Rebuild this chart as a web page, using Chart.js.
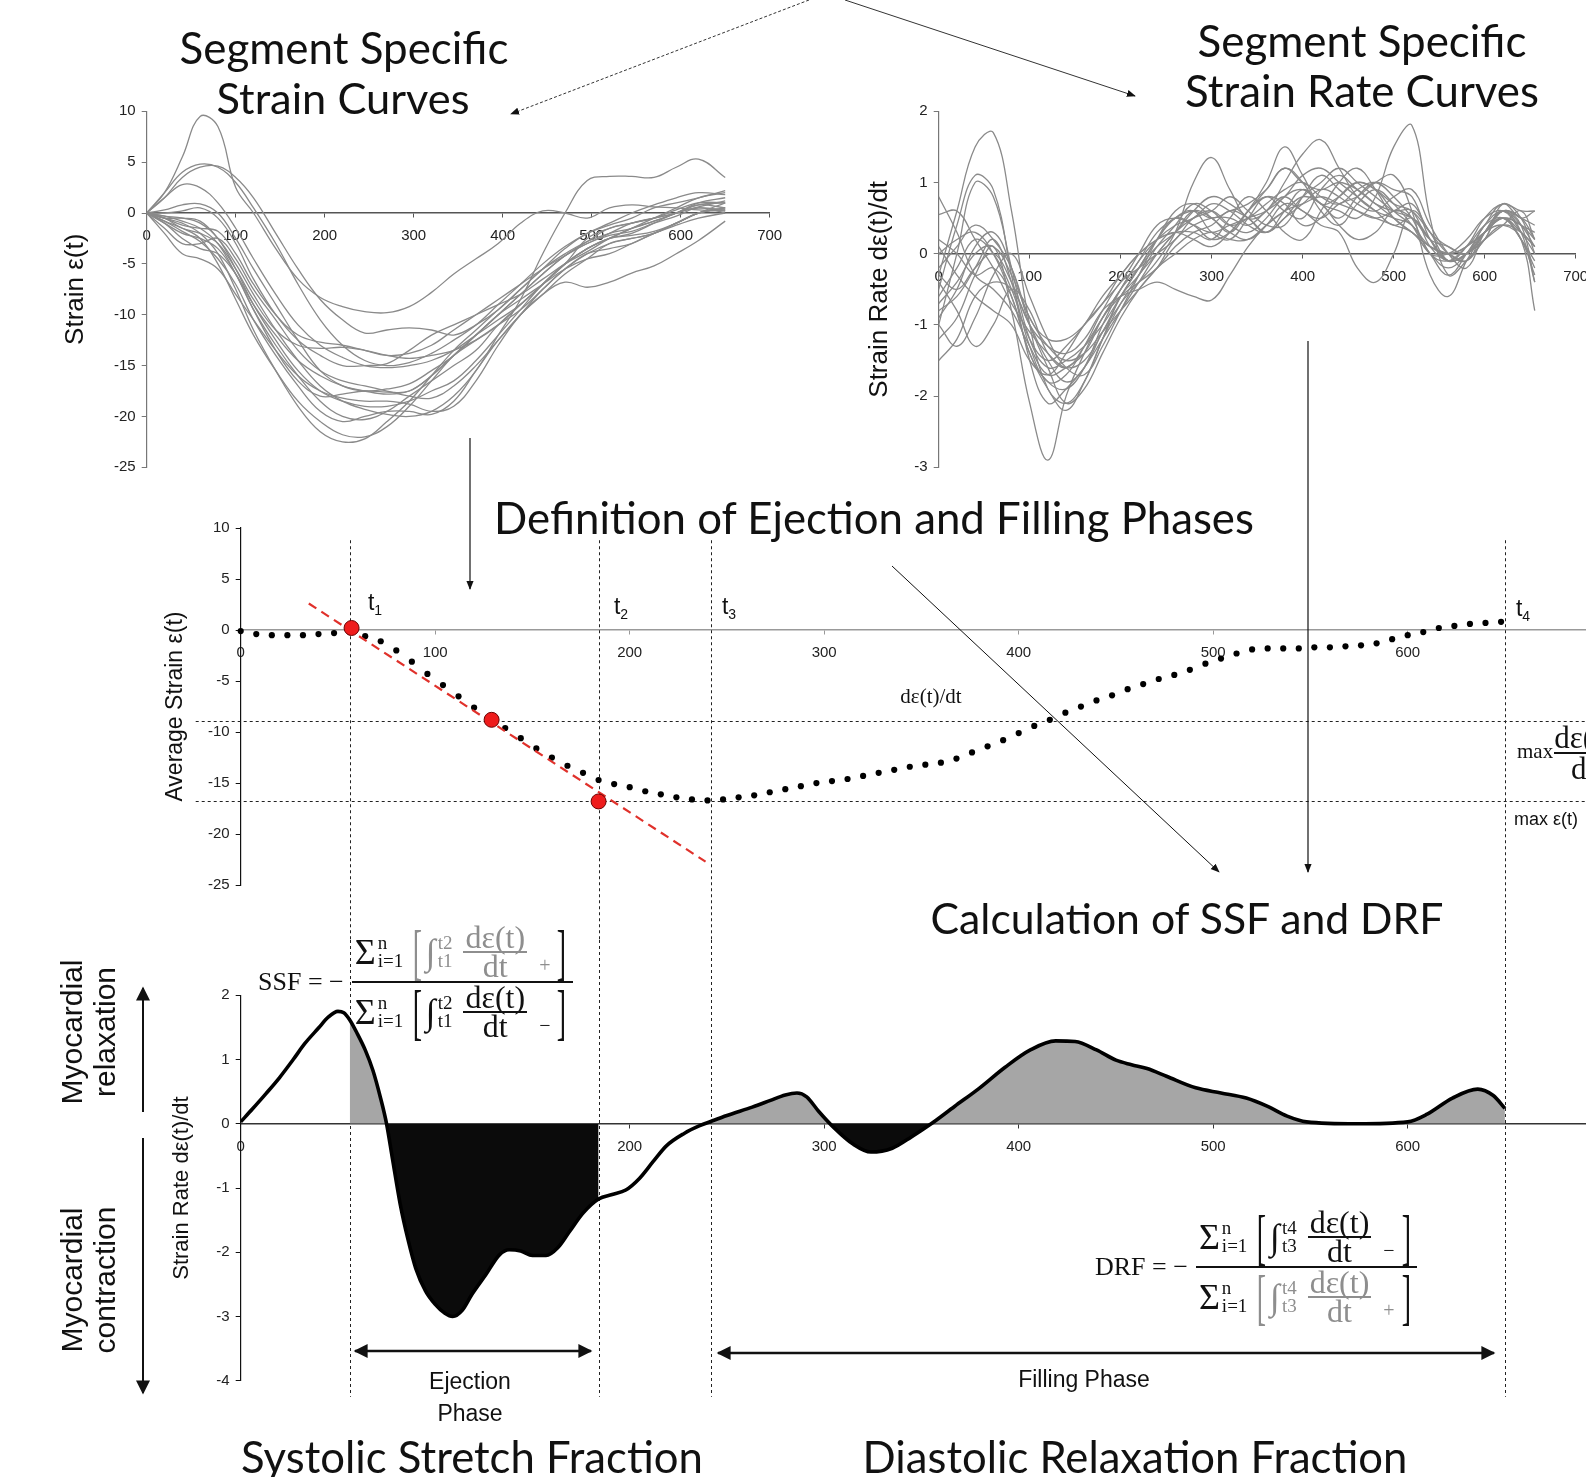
<!DOCTYPE html>
<html lang="en">
<head>
<meta charset="UTF-8">
<title>Systolic Stretch Fraction / Diastolic Relaxation Fraction</title>
<script src="https://cdn.jsdelivr.net/npm/chart.js"></script>
<style>
    html, body { margin: 0; padding: 0; background: #fff; overflow: hidden; }
    #page { position: relative; width: 1586px; height: 1477px; overflow: hidden; background: #fff; }
    #page canvas { position: absolute; }
    #arrows { position: absolute; left: 0; top: 0; z-index: 3; }
    .lbl { position: absolute; transform: translate(-50%, -50%); white-space: nowrap; z-index: 4;
           font-family: 'Liberation Sans', Arial, sans-serif; color: #111; line-height: 1; }
    .big { font-family: Lato, 'Open Sans', sans-serif; color: #111; }
    .tl { font-size: 23px; }
    .tl sub { font-size: 14px; vertical-align: -5px; }
    .serif { font-family: 'Liberation Serif', 'DejaVu Serif', serif; }
    .rot { text-align: center; font-size: 30px; line-height: 33px; transform: translate(-50%, -50%) rotate(-90deg); }

    .eq { position: absolute; transform: translateY(-50%); display: flex; align-items: center; z-index: 4;
          font-family: 'Liberation Serif', 'DejaVu Serif', serif; font-size: 26px; color: #111; }
    .eq .lhs { margin-right: 8px; white-space: nowrap; }
    .fr { display: flex; flex-direction: column; }
    .fr .nu { border-bottom: 2px solid #111; }
    .term { display: flex; align-items: center; height: 58px; padding: 0 3px; }
    .sig { font-size: 36px; }
    .lim { display: flex; flex-direction: column; font-size: 19px; line-height: 18px; margin: 0 6px 0 2px; }
    .br { font-size: 62px; line-height: 1; transform: scaleX(0.45); margin: 0 -2px; }
    .inner { display: flex; align-items: center; }
    .int { font-size: 36px; }
    .ifr { display: flex; flex-direction: column; align-items: center; font-size: 32px; line-height: 27px; margin-left: 5px; }
    .ifr .a { border-bottom: 2px solid currentColor; padding: 0 2px; }
    .sgn { font-size: 20px; align-self: flex-end; margin: 0 3px 3px 12px; }
    .gray { color: #8e8e8e; }
</style>
</head>
<body>
<div id="page">
    <canvas id="strainChart"></canvas>
    <canvas id="rateChart"></canvas>
    <canvas id="avgChart"></canvas>
    <canvas id="meanRateChart"></canvas>
    <svg id="arrows" width="1586" height="1477" viewBox="0 0 1586 1477">
        <defs>
            <marker id="ah" viewBox="0 0 10 10" refX="9" refY="5" markerWidth="9" markerHeight="9" markerUnits="userSpaceOnUse" orient="auto">
                <path d="M0,1 L10,5 L0,9 z" fill="#111"/>
            </marker>
            <marker id="ahBig" viewBox="0 0 10 10" refX="9" refY="5" markerWidth="16" markerHeight="14" markerUnits="userSpaceOnUse" orient="auto-start-reverse">
                <path d="M0,0 L10,5 L0,10 z" fill="#111"/>
            </marker>
        </defs>
        <line x1="809" y1="0" x2="511" y2="114" stroke="#333" stroke-width="1" stroke-dasharray="3,2" marker-end="url(#ah)"/>
        <line x1="845" y1="0" x2="1135" y2="96" stroke="#333" stroke-width="1" marker-end="url(#ah)"/>
        <line x1="470" y1="438" x2="470" y2="589" stroke="#111" stroke-width="1.2" marker-end="url(#ah)"/>
        <line x1="1308" y1="341" x2="1308" y2="872" stroke="#111" stroke-width="1.2" marker-end="url(#ah)"/>
        <line x1="892" y1="566" x2="1219" y2="872" stroke="#111" stroke-width="1" marker-end="url(#ah)"/>
        <line x1="355" y1="1351" x2="591" y2="1351" stroke="#111" stroke-width="2.5" marker-start="url(#ahBig)" marker-end="url(#ahBig)"/>
        <line x1="718" y1="1353" x2="1494" y2="1353" stroke="#111" stroke-width="2.5" marker-start="url(#ahBig)" marker-end="url(#ahBig)"/>
        <line x1="143" y1="1112" x2="143" y2="988" stroke="#111" stroke-width="2" marker-end="url(#ahBig)"/>
        <line x1="143" y1="1138" x2="143" y2="1393" stroke="#111" stroke-width="2" marker-end="url(#ahBig)"/>
    </svg>
</div>

<script>
    // ---------- segment strain curves (ms, %) ----------
    const strainTimes = [0, 20, 40, 60, 80, 100, 120, 145, 170, 195, 220, 245, 270, 295, 320, 345, 370, 395, 420, 445, 470, 495, 520, 545, 570, 595, 620, 650];
    const strainCurves = [
        [0, 2.0, 5.5, 9.5, 8.5, 2.5, 0.0, -3.5, -6.5, -8.3, -9.2, -9.7, -9.8, -9.2, -7.8, -6.0, -4.5, -3.0, -1.0, 0.2, 0.0, -0.5, 0.5, 0.8, 0.6, 0.5, 0.3, 0.2],
        [0, 2.0, 4.0, 4.8, 4.5, 3.0, 0.5, -3.0, -7.0, -10.5, -13.0, -14.5, -15.0, -14.7, -13.8, -12.5, -11.0, -9.0, -7.0, -5.0, -3.3, -2.0, -1.0, 0.0, 0.8, 1.5, 2.0, 1.8],
        [0, 1.5, 3.5, 4.5, 4.6, 3.5, 1.5, -2.0, -5.5, -8.5, -10.5, -11.8, -11.5, -11.3, -11.5, -12.0, -11.0, -9.5, -7.5, -5.5, -3.5, -2.0, -1.2, -0.5, 0.5, 1.0, 1.5, 2.2],
        [0, 1.5, 2.8, 2.5, 1.0, -1.5, -4.5, -8.0, -11.0, -13.0, -14.2, -15.0, -15.2, -15.0, -14.5, -13.5, -12.0, -10.5, -9.0, -7.0, -5.0, -2.5, -1.5, -1.0, -0.5, 0.3, 1.0, 1.0],
        [0, 0.3, 0.8, 0.9, 0.0, -2.5, -5.5, -9.0, -12.5, -15.5, -17.0, -17.5, -17.3, -16.8, -15.5, -14.0, -12.0, -10.0, -8.0, -6.0, -4.2, -2.8, -1.5, -1.0, -0.5, 0.0, 0.6, 1.2],
        [0, -0.5, -0.5, -0.8, -2.5, -5.0, -8.0, -11.5, -14.5, -17.0, -18.5, -19.3, -19.8, -20.0, -19.5, -18.0, -15.5, -12.0, -8.5, -4.0, 0.0, 3.2, 3.6, 3.6, 3.5, 4.5, 5.3, 3.5],
        [0, -0.3, -0.8, -1.5, -3.0, -6.0, -9.5, -13.0, -16.0, -18.5, -20.0, -20.3, -19.5, -18.0, -16.5, -15.0, -13.5, -11.0, -9.0, -7.0, -5.0, -3.5, -2.5, -2.0, -1.0, 0.0, 0.5, 0.3],
        [0, -0.5, -1.0, -2.0, -4.0, -7.5, -11.5, -15.5, -19.0, -21.5, -22.5, -22.2, -20.5, -18.5, -16.0, -13.5, -11.5, -9.5, -7.5, -5.5, -4.0, -2.8, -2.0, -1.5, -0.8, 0.0, 0.8, 1.0],
        [0, -0.8, -1.5, -2.5, -5.0, -8.5, -12.0, -15.5, -18.5, -20.5, -21.8, -22.0, -21.0, -19.0, -16.5, -14.0, -12.0, -10.0, -8.0, -6.0, -4.2, -3.0, -2.2, -1.8, -1.0, -0.3, 0.5, 0.0],
        [0, -2.0, -4.0, -4.5, -5.5, -8.0, -10.5, -13.5, -16.0, -17.5, -18.2, -18.5, -18.5, -18.8, -19.5, -19.0, -16.5, -13.0, -10.0, -8.0, -6.8, -7.3, -6.8, -5.9, -5.2, -4.0, -2.7, -0.8],
        [0, -1.0, -2.5, -3.5, -4.0, -6.0, -9.0, -12.0, -14.5, -16.0, -17.0, -17.5, -17.8, -17.5, -16.0, -14.0, -12.5, -11.0, -9.5, -7.5, -5.5, -4.0, -3.0, -2.5, -2.0, -1.0, 0.0, 0.5],
        [0, -0.5, -1.5, -2.0, -3.0, -5.5, -8.5, -11.5, -13.0, -13.3, -13.2, -13.5, -14.0, -14.3, -14.0, -13.5, -12.5, -11.0, -9.0, -7.0, -5.0, -3.5, -2.5, -2.2, -1.8, -1.0, 0.0, 0.5],
        [0, -1.5, -3.0, -3.0, -2.5, -4.5, -7.5, -10.5, -13.5, -15.5, -16.5, -17.0, -17.5, -18.0, -18.2, -17.0, -15.0, -12.5, -10.0, -7.5, -5.5, -4.0, -3.5, -3.0, -2.0, -1.2, -0.5, 0.0],
        [0, -0.3, -0.5, -1.0, -2.5, -5.5, -9.0, -12.5, -15.5, -17.5, -18.5, -19.0, -19.0, -18.5, -17.5, -16.5, -14.5, -12.0, -9.5, -7.0, -5.0, -3.5, -2.5, -1.5, -0.5, 0.5, 1.5, 2.0],
        [0, -1.0, -2.0, -2.5, -3.5, -6.0, -9.5, -13.5, -16.5, -18.0, -17.8, -17.5, -17.6, -17.5, -16.0, -14.0, -12.0, -10.0, -8.5, -7.0, -5.5, -4.5, -4.0, -3.0, -2.0, -1.0, 0.0, 0.3],
        [0, -0.5, -1.2, -1.5, -1.8, -4.0, -7.0, -10.0, -12.0, -12.7, -13.0, -13.5, -14.0, -13.8, -13.0, -11.5, -10.0, -8.5, -7.0, -5.5, -4.2, -3.0, -2.0, -1.0, -0.5, 0.0, 0.8, 0.5],
        [0, 0.0, 0.2, 0.5, -0.5, -3.0, -6.5, -10.0, -12.5, -14.0, -15.0, -15.0, -14.8, -13.5, -12.0, -11.0, -10.0, -9.0, -8.0, -6.5, -5.0, -3.8, -2.5, -1.5, -0.8, 0.0, 1.0, 1.5],
        [0, -0.8, -1.8, -2.8, -4.5, -7.0, -10.5, -14.0, -17.0, -19.5, -20.5, -20.0, -19.5, -19.5, -19.8, -18.5, -15.5, -12.5, -10.0, -8.0, -6.0, -4.5, -3.0, -2.5, -2.0, -1.0, 0.0, 1.0]
    ];

    // ---------- segment strain rate curves (ms, 1/s) ----------
    const rateTimes = [0, 20, 40, 60, 80, 100, 120, 140, 160, 180, 200, 220, 240, 260, 280, 300, 320, 340, 360, 380, 400, 420, 440, 460, 480, 500, 520, 540, 560, 580, 600, 620, 640, 655];
    const rateCurves = [
        [-0.3, 0.6, 1.5, 1.7, 0.6, -1.0, -1.9, -2.1, -1.8, -1.2, -0.6, -0.3, 0.1, 0.4, 0.7, 0.6, 0.4, 0.5, 0.7, 0.9, 1.0, 0.8, 0.7, 0.9, 1.0, 0.8, 0.5, 0.0, -0.1, 0.1, 0.3, 0.5, 0.2, -0.2],
        [-0.5, 0.4, 1.1, 0.9, -0.3, -1.5, -2.1, -1.9, -1.6, -1.2, -0.8, -0.4, 0.0, 0.3, 0.6, 0.5, 0.3, 0.6, 0.9, 1.2, 1.0, 0.6, 0.4, 0.7, 0.9, 0.7, 0.4, 0.0, 0.0, 0.2, 0.5, 0.6, 0.3, 0.0],
        [-1.0, 0.0, 1.0, 0.8, -0.2, -1.2, -1.6, -1.5, -1.3, -1.0, -0.6, -0.2, 0.2, 0.5, 0.6, 0.3, 0.2, 0.5, 0.8, 0.6, 0.5, 0.9, 1.1, 0.9, 0.7, 0.6, 0.6, 0.1, -0.1, 0.0, 0.4, 0.6, 0.4, 0.1],
        [0.8, 0.3, -0.3, -0.5, -0.8, -1.3, -1.7, -1.6, -1.4, -0.9, -0.5, -0.1, 0.2, 0.4, 0.5, 0.7, 0.6, 0.4, 0.3, 0.5, 0.8, 1.0, 1.2, 1.0, 0.8, 0.6, 0.5, 0.2, -0.1, 0.0, 0.2, 0.7, 0.5, 0.6],
        [0.55, 0.6, 0.2, -0.2, -0.7, -1.1, -1.4, -1.6, -1.5, -1.1, -0.6, -0.2, 0.2, 0.5, 0.4, 0.2, 0.3, 0.6, 0.8, 0.7, 0.4, 0.5, 0.8, 1.0, 0.9, 0.7, 0.6, 0.3, 0.0, -0.1, 0.3, 0.5, 0.2, -0.3],
        [-1.5, -1.2, -0.6, -0.4, -0.5, -1.0, -1.5, -1.8, -1.6, -1.1, -0.7, -0.4, -0.1, 0.3, 1.0, 1.35, 0.9, 0.5, 0.6, 1.0, 1.4, 1.6, 1.2, 0.8, 0.6, 0.5, 0.4, 0.0, -0.3, 0.0, 0.4, 0.7, 0.5, 0.0],
        [-0.8, -0.6, -0.2, 0.2, -0.4, -1.3, -1.8, -1.7, -1.3, -0.8, -0.4, -0.2, 0.0, 0.2, 0.5, 0.6, 0.4, 0.3, 0.5, 0.8, 0.9, 0.7, 0.6, 0.5, 0.8, 1.5, 1.8, 0.5, -0.3, -0.1, 0.2, 0.6, 0.4, -0.4],
        [-1.2, -0.9, -0.3, 0.1, -0.8, -2.1, -2.9, -2.0, -1.4, -0.9, -0.6, -0.4, -0.2, 0.1, 0.3, 0.4, 0.6, 0.5, 0.3, 0.5, 0.7, 0.9, 0.8, 0.6, 0.5, 0.6, 0.7, 0.3, 0.1, 0.0, 0.3, 0.5, 0.3, 0.1],
        [-0.3, -0.5, -0.2, 0.0, -0.4, -1.0, -1.3, -1.4, -1.2, -0.8, -0.6, -0.5, -0.4, -0.5, -0.6, -0.65, -0.3, 0.1, 0.4, 0.6, 0.7, 0.8, 0.7, 0.6, 0.5, 0.4, 0.3, 0.0, -0.2, 0.0, 0.3, 0.4, 0.2, -0.8],
        [0.0, 0.2, 0.3, 0.0, -0.6, -1.4, -1.9, -2.2, -1.8, -1.2, -0.7, -0.3, 0.0, 0.3, 0.5, 0.6, 0.8, 0.6, 0.4, 0.4, 0.8, 1.1, 0.9, 0.7, 0.6, 0.8, 0.9, 0.4, 0.0, -0.2, 0.3, 0.6, 0.5, 0.2],
        [-0.6, -0.2, 0.2, 0.0, -0.5, -1.2, -1.5, -1.3, -1.0, -0.6, -0.3, 0.0, 0.2, 0.3, 0.3, 0.2, 0.5, 0.8, 0.6, 0.3, 0.2, 0.6, 1.0, 1.2, 0.9, 0.5, 0.3, 0.1, 0.0, 0.1, 0.4, 0.5, 0.2, -0.1],
        [-1.0, -1.3, -0.9, -0.3, 0.0, -0.6, -1.2, -1.6, -1.7, -1.3, -0.8, -0.3, 0.2, 0.6, 0.7, 0.5, 0.3, 0.2, 0.4, 0.7, 0.6, 0.4, 0.3, -0.2, -0.4, 0.0, 0.6, 0.3, -0.1, 0.0, 0.2, 0.4, 0.6, 0.2],
        [0.2, 0.0, -0.3, -0.2, -0.6, -1.4, -1.8, -1.9, -1.6, -1.0, -0.5, -0.1, 0.3, 0.5, 0.6, 0.5, 0.6, 0.7, 0.9, 1.2, 1.0, 0.9, 1.0, 0.9, 0.7, 0.5, 0.3, 0.1, 0.0, -0.1, 0.2, 0.4, 0.3, 0.1],
        [-0.4, -0.8, -1.3, -1.0, -0.5, -0.8, -1.4, -1.6, -1.3, -0.9, -0.5, -0.2, 0.1, 0.3, 0.6, 0.8, 0.7, 0.5, 0.3, 0.6, 0.9, 0.7, 0.5, 0.8, 1.0, 0.9, 0.8, 0.2, -0.1, 0.1, 0.5, 0.7, 0.6, 0.6],
        [-0.9, -0.5, 0.1, 0.3, -0.2, -1.0, -1.6, -2.1, -1.9, -1.4, -0.9, -0.5, -0.2, 0.2, 0.4, 0.5, 0.5, 0.4, 0.6, 0.8, 0.6, 0.5, 0.7, 0.8, 1.0, 1.1, 0.6, -0.3, -0.6, -0.1, 0.3, 0.6, 0.3, -0.4],
        [-0.2, 0.1, 0.4, 0.2, -0.2, -0.9, -1.2, -1.2, -1.0, -0.7, -0.3, 0.0, 0.2, 0.3, 0.2, 0.1, 0.3, 0.6, 1.0, 1.5, 1.1, 0.7, 0.8, 1.0, 0.9, 0.6, 0.4, 0.1, 0.0, 0.1, 0.3, 0.5, 0.4, 0.2],
        [-0.7, -0.4, 0.0, 0.1, -0.3, -0.9, -1.3, -1.5, -1.4, -1.1, -0.8, -0.5, -0.2, 0.0, 0.2, 0.3, 0.2, 0.2, 0.4, 0.6, 0.8, 0.7, 0.4, 0.2, 0.3, 0.6, 0.5, 0.2, 0.1, 0.0, 0.3, 0.5, 0.4, 0.3],
        [0.1, -0.3, -0.6, -0.8, -1.0, -1.5, -1.7, -1.4, -1.0, -0.7, -0.4, 0.0, 0.4, 0.5, 0.4, 0.3, 0.4, 0.5, 0.6, 0.8, 1.1, 1.2, 1.0, 0.8, 0.6, 0.4, 0.5, 0.2, -0.1, 0.0, 0.3, 0.6, 0.5, 0.4]
    ];

    // ---------- average strain (dotted) ----------
    const avgTimes = [0, 8, 16, 24, 32, 40, 48, 56, 64, 72, 80, 88, 96, 104, 112, 120, 128, 136, 144, 152, 160, 168, 176, 184, 192, 200,
        208, 216, 224, 232, 240, 248, 256, 264, 272, 280, 288, 296, 304, 312, 320, 328, 336, 344, 352, 360, 368, 376, 384, 392, 400,
        408, 416, 424, 432, 440, 448, 456, 464, 472, 480, 488, 496, 504, 512, 520, 528, 536, 544, 552, 560, 568, 576, 584, 592, 600,
        608, 616, 624, 632, 640, 648];
    const avgStrain = [-0.1, -0.4, -0.5, -0.5, -0.5, -0.4, -0.3, -0.2, -0.6, -1.1, -2.0, -3.1, -4.3, -5.4, -6.5, -7.6, -8.8, -9.6, -10.6, -11.6, -12.5, -13.3, -14.0, -14.7, -15.1, -15.4,
        -15.8, -16.1, -16.4, -16.6, -16.7, -16.6, -16.4, -16.2, -15.9, -15.6, -15.3, -15.0, -14.8, -14.6, -14.3, -14.0, -13.7, -13.4, -13.2, -13.0, -12.6, -12.0, -11.4, -10.8, -10.1,
        -9.4, -8.8, -8.1, -7.5, -6.9, -6.4, -5.8, -5.3, -4.8, -4.4, -3.9, -3.3, -2.8, -2.3, -1.9, -1.8, -1.8, -1.8, -1.7, -1.7, -1.6, -1.5, -1.3, -0.9, -0.5,
        -0.2, 0.2, 0.4, 0.6, 0.7, 0.8];
    const tangentT = [35, 239];
    const tangentStrain = [2.6, -22.7];
    const markT = [57, 129, 184];
    const markStrain = [0.2, -8.8, -16.8];
    const refStrain = [-8.9, -16.8];      // max dε/dt level, max ε level
    const phaseT = [56, 184, 242, 650];   // t1, t2, t3, t4

    // ---------- mean strain rate ----------
    const meanRateT = [0, 6, 13, 20, 27, 33, 40, 45, 50, 53, 56, 60, 64, 68, 72, 75, 78, 82, 86, 90, 95, 100, 105, 109, 114, 119, 126, 133, 138, 144, 150, 157, 163, 169, 176, 184,
        191, 198, 205, 212, 219, 228, 236, 242, 250, 263, 272, 280, 286, 291, 297, 305, 315, 324, 335, 345, 355, 367, 380, 393, 406, 419, 429, 440, 450, 458, 466, 476, 491,
        504, 517, 528, 538, 548, 574, 600, 610, 623, 636, 644, 650];
    const meanRate = [0.03, 0.23, 0.47, 0.72, 1.0, 1.25, 1.49, 1.66, 1.75, 1.73, 1.62, 1.4, 1.15, 0.83, 0.39, 0.0, -0.54, -1.25, -1.8, -2.25, -2.6, -2.81, -2.95, -3.0, -2.9, -2.65, -2.35, -2.04, -1.96, -1.98, -2.05, -2.05, -1.93, -1.68, -1.39, -1.17,
        -1.1, -1.03, -0.85, -0.59, -0.34, -0.15, -0.03, 0.04, 0.13, 0.26, 0.36, 0.45, 0.48, 0.42, 0.2, -0.06, -0.32, -0.44, -0.38, -0.2, 0.0, 0.27, 0.56, 0.88, 1.15, 1.29, 1.28, 1.15, 0.99, 0.92, 0.86, 0.74, 0.56,
        0.48, 0.4, 0.27, 0.12, 0.03, 0.0, 0.03, 0.15, 0.4, 0.54, 0.44, 0.24];

    Chart.defaults.font.family = "'Liberation Sans', Arial, sans-serif";
    Chart.defaults.color = '#222';
    Chart.defaults.animation = false;
    Chart.defaults.plugins.legend.display = false;
    Chart.defaults.plugins.tooltip.enabled = false;

    const page = document.getElementById('page');

    // place a canvas so that its plot area lands on the given page rectangle
    function frame(id, box, plot, titleX, titleSize) {
        const cv = document.getElementById(id);
        cv.style.left = box.x + 'px';
        cv.style.top = box.y + 'px';
        cv.width = box.w;
        cv.height = box.h;
        cv.style.width = box.w + 'px';
        cv.style.height = box.h + 'px';
        const yW = plot.left - titleX + titleSize * 0.6;
        return {
            cv: cv,
            yW: yW,
            padding: {
                left: plot.left - yW - box.x,
                top: plot.top - box.y,
                right: box.x + box.w - plot.right,
                bottom: box.y + box.h - plot.bottom
            }
        };
    }

    function makeScales(f, yMin, yMax, yStep, yTitle, titleSize, xAxisColor, yAxisColor) {
        return {
            x: {
                type: 'linear', position: { y: 0 }, min: 0, max: 700,
                ticks: { stepSize: 100, font: { size: 15 }, padding: 10, maxRotation: 0, autoSkip: false, color: '#222' },
                grid: { drawOnChartArea: false, tickLength: 4, color: xAxisColor },
                border: { color: xAxisColor, width: 1.5 }
            },
            y: {
                min: yMin, max: yMax,
                ticks: { stepSize: yStep, font: { size: 15 }, padding: 6, color: '#222' },
                grid: { drawOnChartArea: false, tickLength: 5, color: yAxisColor },
                border: { color: yAxisColor, width: 1.2 },
                title: { display: true, text: yTitle, font: { size: titleSize }, padding: 0, color: '#111' },
                afterFit: function (s) { s.width = f.yW; }
            }
        };
    }

    function xy(ts, vs) {
        return ts.map(function (t, i) { return { x: t, y: vs[i] }; });
    }

    // ---------- chart 1: segment strain ----------
    const f1 = frame('strainChart', { x: 40, y: 95, w: 760, h: 390 }, { left: 146.7, right: 769.7, top: 111.3, bottom: 467.3 }, 76, 26);
    new Chart(f1.cv, {
        type: 'line',
        data: {
            datasets: strainCurves.map(function (c) {
                return { data: xy(strainTimes, c), borderColor: '#8a8a8a', borderWidth: 1.3, pointRadius: 0, tension: 0.4 };
            })
        },
        options: {
            responsive: false, devicePixelRatio: 1,
            layout: { padding: f1.padding, autoPadding: false },
            scales: makeScales(f1, -25, 10, 5, 'Strain ε(t)', 26, '#555', '#777')
        }
    });

    // ---------- chart 2: segment strain rate ----------
    const f2 = frame('rateChart', { x: 850, y: 95, w: 750, h: 390 }, { left: 938.7, right: 1575.7, top: 111.3, bottom: 467.3 }, 880, 26);
    new Chart(f2.cv, {
        type: 'line',
        data: {
            datasets: rateCurves.map(function (c) {
                return { data: xy(rateTimes, c), borderColor: '#8a8a8a', borderWidth: 1.3, pointRadius: 0, tension: 0.4 };
            })
        },
        options: {
            responsive: false, devicePixelRatio: 1,
            layout: { padding: f2.padding, autoPadding: false },
            scales: makeScales(f2, -3, 2, 1, 'Strain Rate dε(t)/dt', 26, '#555', '#777')
        }
    });

    // ---------- chart 3: average strain with phase guides ----------
    const guides3 = {
        id: 'guides3',
        beforeDatasetsDraw: function (chart) {
            const ctx = chart.ctx, x = chart.scales.x, y = chart.scales.y;
            ctx.save();
            ctx.strokeStyle = '#222';
            ctx.lineWidth = 1;
            ctx.setLineDash([3, 3]);
            phaseT.forEach(function (t) {
                const px = Math.round(x.getPixelForValue(t)) + 0.5;
                ctx.beginPath();
                ctx.moveTo(px, y.getPixelForValue(8.8));
                ctx.lineTo(px, chart.height);
                ctx.stroke();
            });
            refStrain.forEach(function (v) {
                const py = Math.round(y.getPixelForValue(v)) + 0.5;
                ctx.beginPath();
                ctx.moveTo(chart.chartArea.left - 45, py);
                ctx.lineTo(chart.width, py);
                ctx.stroke();
            });
            ctx.restore();
        }
    };
    const f3 = frame('avgChart', { x: 150, y: 500, w: 1480, h: 440 }, { left: 240.7, right: 1602.2, top: 528.0, bottom: 885.1 }, 176, 23);
    new Chart(f3.cv, {
        type: 'line',
        data: {
            datasets: [
                { data: xy(markT, markStrain), showLine: false, pointRadius: 7.5, pointBackgroundColor: '#ee1c1c', pointBorderColor: '#6a0000', pointBorderWidth: 1, order: 0 },
                { data: xy(tangentT, tangentStrain), borderColor: '#e0312b', borderWidth: 2.2, borderDash: [9, 6], pointRadius: 0, order: 1 },
                { data: xy(avgTimes, avgStrain), showLine: false, pointRadius: 3.1, pointBackgroundColor: '#000', pointBorderWidth: 0, order: 2 }
            ]
        },
        options: {
            responsive: false, devicePixelRatio: 1,
            clip: false,
            layout: { padding: f3.padding, autoPadding: false },
            scales: makeScales(f3, -25, 10, 5, 'Average Strain ε(t)', 23, '#999', '#111')
        },
        plugins: [guides3]
    });

    // ---------- chart 4: mean strain rate with SSF / DRF areas ----------
    function inPhase(t) {
        return (t >= phaseT[0] && t <= phaseT[1]) || (t >= phaseT[2] && t <= phaseT[3]);
    }
    const guides4 = {
        id: 'guides4',
        beforeDatasetsDraw: function (chart) {
            const ctx = chart.ctx, x = chart.scales.x, y = chart.scales.y;
            ctx.save();
            ctx.strokeStyle = '#222';
            ctx.lineWidth = 1;
            ctx.setLineDash([3, 3]);
            phaseT.forEach(function (t) {
                const px = Math.round(x.getPixelForValue(t)) + 0.5;
                ctx.beginPath();
                ctx.moveTo(px, 0);
                ctx.lineTo(px, y.getPixelForValue(-4.25));
                ctx.stroke();
            });
            ctx.restore();
        }
    };
    const f4 = frame('meanRateChart', { x: 150, y: 940, w: 1480, h: 480 }, { left: 240.7, right: 1602.2, top: 995.3, bottom: 1380.8 }, 182, 22);
    new Chart(f4.cv, {
        type: 'line',
        data: {
            datasets: [
                { data: xy(meanRateT, meanRate), borderColor: '#000', borderWidth: 3.6, pointRadius: 0, cubicInterpolationMode: 'monotone', order: 0 },
                {
                    data: meanRateT.map(function (t, i) { return { x: t, y: inPhase(t) ? meanRate[i] : null }; }),
                    borderWidth: 0, borderColor: 'rgba(0,0,0,0)', pointRadius: 0, cubicInterpolationMode: 'monotone', spanGaps: false,
                    fill: { target: { value: 0 }, above: '#a6a6a6', below: '#0b0b0b' }, order: 1
                }
            ]
        },
        options: {
            responsive: false, devicePixelRatio: 1,
            layout: { padding: f4.padding, autoPadding: false },
            scales: makeScales(f4, -4, 2, 1, 'Strain Rate dε(t)/dt', 22, '#333', '#111')
        },
        plugins: [guides4]
    });

    // ---------- text ----------
    function addLabel(html, x, y, cls, anchor) {
        const d = document.createElement('div');
        d.className = 'lbl ' + (cls || '');
        d.innerHTML = html;
        d.style.left = x + 'px';
        d.style.top = y + 'px';
        if (anchor === 'left') d.style.transform = 'translate(0, -50%)';
        page.appendChild(d);
        return d;
    }
    function fitText(el, w) {
        el.style.fontSize = '40px';
        const m = el.getBoundingClientRect().width;
        el.style.fontSize = (40 * w / m) + 'px';
    }

    fitText(addLabel('Segment Specific', 344, 48, 'big'), 329);
    fitText(addLabel('Strain Curves', 343, 98, 'big'), 253);
    fitText(addLabel('Segment Specific', 1362, 41, 'big'), 329);
    fitText(addLabel('Strain Rate Curves', 1362, 91, 'big'), 354);
    fitText(addLabel('Definition of Ejection and Filling Phases', 874, 518, 'big'), 760);
    fitText(addLabel('Calculation of SSF and DRF', 1187, 918, 'big'), 513);
    fitText(addLabel('Systolic Stretch Fraction', 472, 1457, 'big'), 462);
    fitText(addLabel('Diastolic Relaxation Fraction', 1135, 1457, 'big'), 545);

    addLabel('t<sub>1</sub>', 375, 604, 'tl');
    addLabel('t<sub>2</sub>', 621, 608, 'tl');
    addLabel('t<sub>3</sub>', 729, 608, 'tl');
    addLabel('t<sub>4</sub>', 1523, 610, 'tl');

    const dLbl = addLabel('dε(t)/dt', 931, 696, 'serif');
    dLbl.style.fontSize = '21px';
    const maxD = addLabel('max<span style="display:inline-flex;flex-direction:column;align-items:center;vertical-align:middle;margin-left:1px;font-size:31px;line-height:29px"><span style="border-bottom:2px solid #111">dε(t)</span><span>dt</span></span>', 1517, 753, 'serif', 'left');
    maxD.style.fontSize = '21px';
    const maxE = addLabel('max ε(t)', 1514, 819, '', 'left');
    maxE.style.fontSize = '18px';

    const ej = addLabel('Ejection', 470, 1381);
    ej.style.fontSize = '23px';
    const ph = addLabel('Phase', 470, 1413);
    ph.style.fontSize = '23px';
    const fp = addLabel('Filling Phase', 1084, 1379);
    fp.style.fontSize = '23px';

    addLabel('Myocardial<br>relaxation', 88, 1032, 'rot');
    addLabel('Myocardial<br>contraction', 88, 1280, 'rot');

    // ---------- formulas ----------
    function term(lo, hi, sign, gray) {
        const g = gray ? ' gray' : '';
        return '<div class="term"><span class="sig">Σ</span><span class="lim"><span>n</span><span>i=1</span></span>' +
            '<span class="br' + g + '">[</span><span class="inner' + g + '"><span class="int">∫</span>' +
            '<span class="lim"><span>' + hi + '</span><span>' + lo + '</span></span>' +
            '<span class="ifr"><span class="a">dε(t)</span><span>dt</span></span><span class="sgn">' + sign + '</span></span>' +
            '<span class="br">]</span></div>';
    }
    function addEq(name, lo, hi, numSign, denSign, grayNum, x, y) {
        const d = document.createElement('div');
        d.className = 'eq';
        d.innerHTML = '<span class="lhs">' + name + ' = −</span><div class="fr"><div class="nu">' + term(lo, hi, numSign, grayNum) +
            '</div><div class="de">' + term(lo, hi, denSign, !grayNum) + '</div></div>';
        d.style.left = x + 'px';
        d.style.top = y + 'px';
        page.appendChild(d);
    }
    addEq('SSF', 't1', 't2', '+', '−', true, 258, 982);
    addEq('DRF', 't3', 't4', '−', '+', false, 1095, 1267);
</script>
</body>
</html>
